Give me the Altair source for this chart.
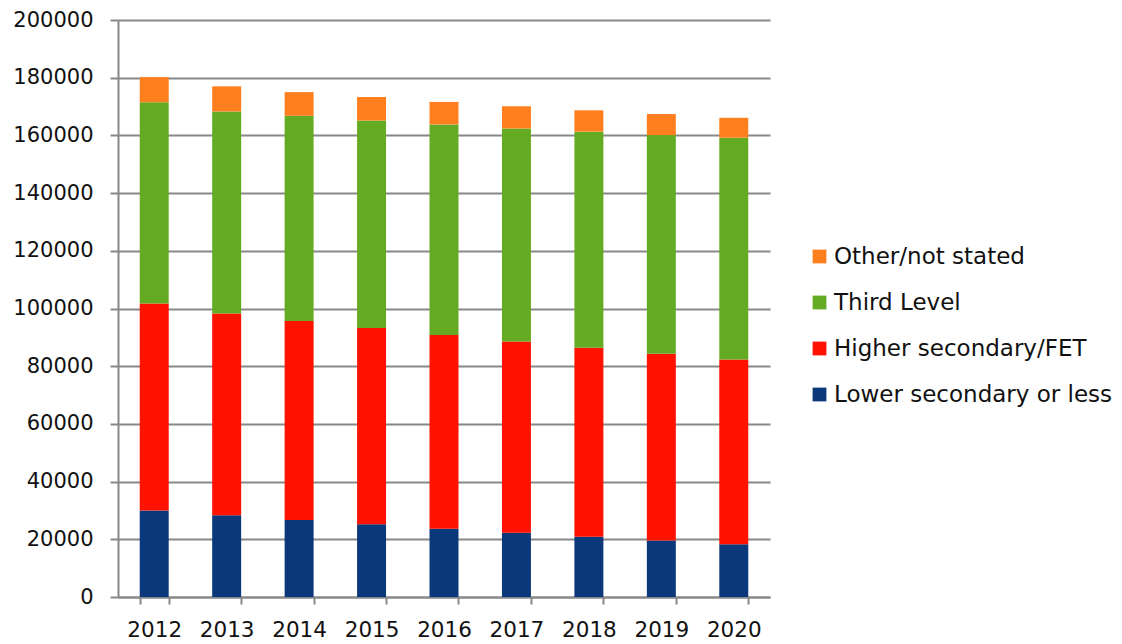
import altair as alt
import pandas as pd

years = ["2012", "2013", "2014", "2015", "2016", "2017", "2018", "2019", "2020"]
lower = [30000, 28300, 26700, 25200, 23700, 22300, 20900, 19600, 18300]
higher = [71700, 70000, 69000, 68000, 67100, 66300, 65500, 64700, 64000]
third = [69800, 70000, 71100, 72000, 73000, 73800, 74900, 75800, 76900]
other = [8700, 8700, 8200, 8100, 7800, 7700, 7400, 7300, 6900]

series = ["Lower secondary or less", "Higher secondary/FET", "Third Level", "Other/not stated"]
colors = ["#0B377B", "#FF1200", "#64AB23", "#FF7F1E"]
values = [lower, higher, third, other]

rows = []
for si, (name, vals) in enumerate(zip(series, values)):
    for y, v in zip(years, vals):
        rows.append({"year": y, "series": name, "value": v, "order": si})
df = pd.DataFrame(rows)

legend_order = list(reversed(series))
legend_colors = list(reversed(colors))

FONT = "DejaVu Sans"

chart = alt.Chart(df).mark_bar().encode(
    x=alt.X("year:N", sort=years, title=None,
            scale=alt.Scale(paddingInner=0.6, paddingOuter=0.3),
            axis=alt.Axis(labelAngle=0, tickBand="extent", labelFontSize=21.5,
                          labelFont=FONT, labelColor="#111111", labelPadding=15,
                          domainColor="#888888", domainWidth=2, tickColor="#888888",
                          tickWidth=2, tickSize=7, grid=False)),
    y=alt.Y("value:Q", stack="zero", title=None,
            scale=alt.Scale(domain=[0, 200000], nice=False),
            axis=alt.Axis(values=list(range(0, 200001, 20000)), format="d",
                          labelFontSize=21, labelFont=FONT, labelColor="#111111",
                          labelPadding=17, tickSize=8, tickColor="#888888", tickWidth=2,
                          domainColor="#888888", domainWidth=2,
                          gridColor="#888888", gridWidth=2)),
    color=alt.Color("series:N", scale=alt.Scale(domain=legend_order, range=legend_colors),
                    legend=alt.Legend(title=None, orient="none", legendX=690, legendY=225,
                                      symbolType="square", symbolSize=190,
                                      symbolStrokeWidth=0, labelFontSize=23,
                                      labelFont=FONT, labelColor="#111111",
                                      labelOffset=3, rowPadding=22, padding=0,
                                      labelLimit=400)),
    order=alt.Order("order:Q", sort="ascending"),
).properties(
    width=652, height=577,
    padding={"left": 110, "top": 12, "right": 344, "bottom": 50},
    autosize=alt.AutoSizeParams(type="none"),
).configure_view(stroke=None)

chart.save("out.html", embed_options={"renderer": "svg", "actions": False})
